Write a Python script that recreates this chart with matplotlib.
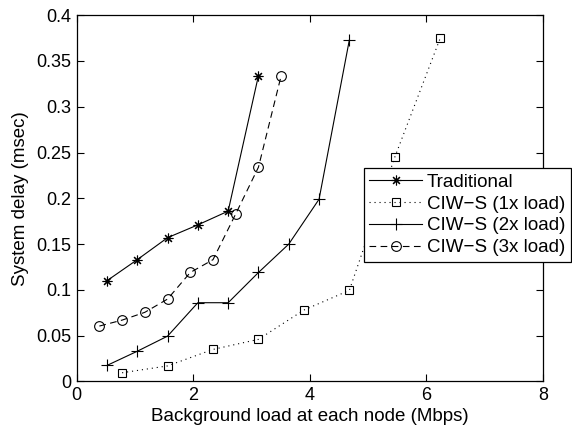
import matplotlib
matplotlib.use('Agg')
import matplotlib.pyplot as plt
from matplotlib.ticker import FuncFormatter

plt.rcParams['font.family'] = ['Liberation Sans', 'DejaVu Sans']

# background load (Mbps) and system delay (msec)
trad_x = [0.52, 1.04, 1.56, 2.08, 2.60, 3.12]
trad_y = [0.110, 0.133, 0.157, 0.171, 0.186, 0.334]

ciw1_x = [0.78, 1.56, 2.34, 3.12, 3.90, 4.68, 5.46, 6.24]
ciw1_y = [0.0095, 0.017, 0.035, 0.046, 0.078, 0.0995, 0.245, 0.375]

ciw2_x = [0.52, 1.04, 1.56, 2.08, 2.60, 3.12, 3.64, 4.16, 4.68]
ciw2_y = [0.0175, 0.033, 0.0495, 0.086, 0.086, 0.119, 0.150, 0.199, 0.373]

ciw3_x = [0.39, 0.78, 1.17, 1.56, 1.95, 2.34, 2.73, 3.12, 3.51]
ciw3_y = [0.0605, 0.067, 0.0755, 0.090, 0.119, 0.133, 0.183, 0.234, 0.334]

fig = plt.figure(figsize=(5.72, 4.33), dpi=100)
ax = fig.add_axes([0.134, 0.119, 0.815, 0.846])

lw = 0.8
ax.plot(trad_x, trad_y, '-', color='k', lw=lw, marker=(8, 2, 0), ms=7,
        mew=0.8, label='Traditional')
ax.plot(ciw1_x, ciw1_y, ':', color='k', lw=lw, marker='s', ms=6,
        mfc='none', mew=0.8, dashes=(1, 3.5), label='CIW\u2212S (1x load)')
ax.plot(ciw2_x, ciw2_y, '-', color='k', lw=lw, marker='+', ms=8,
        mew=0.8, label='CIW\u2212S (2x load)')
ax.plot(ciw3_x, ciw3_y, '--', color='k', lw=lw, marker='o', ms=7,
        mfc='none', mew=0.8, dashes=(6, 4), label='CIW\u2212S (3x load)')

ax.set_xlim(0, 8)
ax.set_ylim(0, 0.4)
ax.set_xticks([0, 2, 4, 6, 8])
ax.set_yticks([0, 0.05, 0.1, 0.15, 0.2, 0.25, 0.3, 0.35, 0.4])
ax.yaxis.set_major_formatter(FuncFormatter(lambda v, p: '%g' % round(v, 3)))
ax.tick_params(direction='in', top=True, right=True, length=5, width=0.8,
               labelsize=13, pad=4)
for s in ax.spines.values():
    s.set_linewidth(0.9)

ax.set_xlabel('Background load at each node (Mbps)', fontsize=13.5, labelpad=3)
ax.set_ylabel('System delay (msec)', fontsize=13.5, labelpad=5)

leg = ax.legend(loc='upper left', bbox_to_anchor=(0.636, 0.612),
                bbox_transform=fig.transFigure, fontsize=13.5, frameon=True,
                fancybox=False, framealpha=1, edgecolor='k', handlelength=2.8,
                handletextpad=0.25, labelspacing=0.25, borderpad=0.3,
                borderaxespad=0)
leg.get_frame().set_linewidth(0.9)

fig.savefig('out.png', dpi=100)
